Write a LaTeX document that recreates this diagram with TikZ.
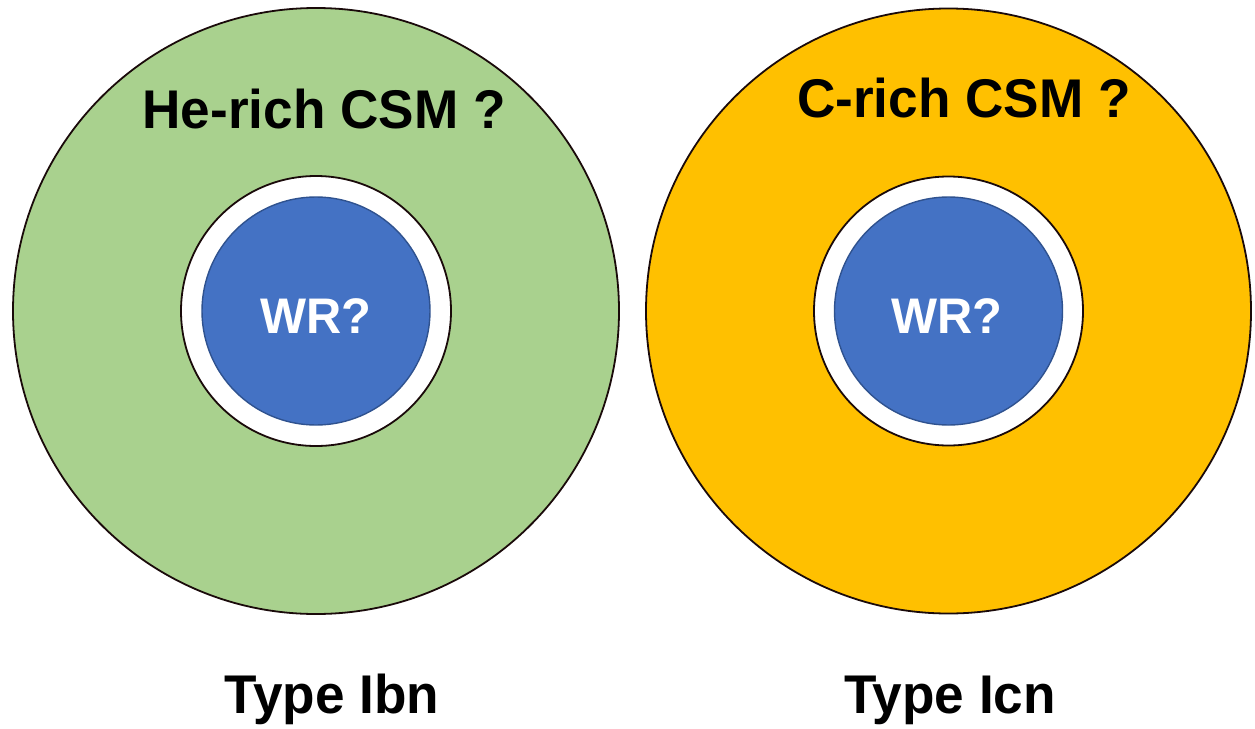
\documentclass[tikz,border=0pt]{standalone}
\usepackage{fontspec}
\setmainfont{Liberation Sans}[FakeStretch=0.975]
\definecolor{heshell}{HTML}{A9D18E}
\definecolor{cshell}{HTML}{FFC000}
\definecolor{wrblue}{HTML}{4472C4}
\definecolor{wredge}{HTML}{2F528F}
\definecolor{rimline}{HTML}{1A0A0A}
\begin{document}
\begin{tikzpicture}[x=1pt,y=-1pt,
  shell/.style={draw=rimline,line width=1.8pt},
  gap/.style={draw=rimline,line width=1.8pt,fill=white},
  star/.style={draw=wredge,line width=1.4pt,fill=wrblue},
  title/.style={anchor=base,inner sep=0pt,font=\fontsize{54.5}{60}\selectfont\bfseries},
  wrlabel/.style={anchor=base,inner sep=0pt,text=white,font=\fontsize{50}{56}\selectfont\bfseries}]
\useasboundingbox (0,0) rectangle (1255,728);
% left system: He-rich shell
\fill[heshell,shell] (316,311) circle (303);
\draw[gap] (316,311) circle (135);
\draw[star] (316,311) circle (114);
% right system: C-rich shell
\fill[cshell,shell] (948.5,311) circle (302.5);
\draw[gap] (948.5,311) circle (134.5);
\draw[star] (948.5,311) circle (114);
% labels
\node[title] (he) at (324,128) {He-rich CSM ?};
\node[title] (cr) at (964,117) {C-rich CSM ?};
\node[wrlabel] (wl) at (316,333) {WR?};
\node[wrlabel] (wr) at (947,333) {WR?};
\node[title] (ibn) at (332,713) {Type Ibn};
\node[title] (icn) at (950,713) {Type Icn};
\end{tikzpicture}
\end{document}
